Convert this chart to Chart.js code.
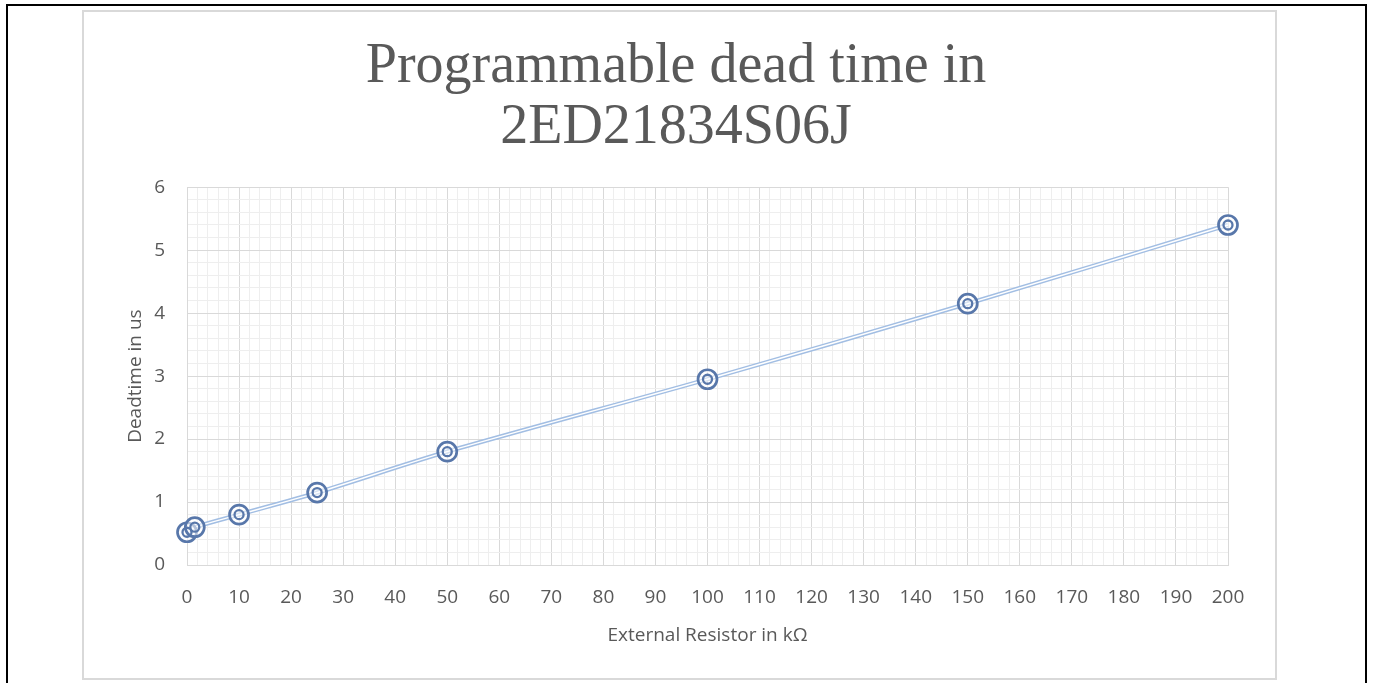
<!DOCTYPE html>
<html>
<head>
<meta charset="utf-8">
<script src="https://cdn.jsdelivr.net/npm/chart.js@4"></script>
<style>
  html, body { margin: 0; padding: 0; background: #fff; width: 1373px; height: 683px; overflow: hidden; }
  .outer { position: absolute; left: 6px; top: 4px; width: 1361px; height: 720px; box-sizing: border-box; border: 2px solid #000; }
  .frame { position: absolute; left: 82px; top: 10px; width: 1195px; height: 670px; box-sizing: border-box; border: 2px solid #d9d9d9; }
  .frame .box { position: absolute; left: 0; top: 0; width: 1191px; height: 666px; }
</style>
</head>
<body>
<div class="outer"></div>
<div class="frame"><div class="box"><canvas id="chart"></canvas></div></div>
<script>
// values
const resistorK = [0, 1.5, 10, 25, 50, 100, 150, 200];   // External Resistor in kΩ
const deadtimeUs = [0.52, 0.6, 0.8, 1.15, 1.8, 2.95, 4.15, 5.4];  // Deadtime in us
const titleLines = ['Programmable dead time in', '2ED21834S06J'];

const points = resistorK.map((x, i) => ({ x: x, y: deadtimeUs[i] }));

const textColor = '#595959';
const markerColor = '#5877aa';
const lineColor = '#a2bee3';
const axisFont = { family: '"Open Sans", sans-serif', size: 19 };
const isWhole = (v, step) => Math.abs(v / step - Math.round(v / step)) < 1e-6;

new Chart(document.getElementById('chart'), {
  type: 'scatter',
  data: {
    datasets: [
      // inner ring of the marker (drawn on top)
      { data: points, showLine: false, clip: false, pointRadius: 4.5, pointHoverRadius: 4.5, pointBorderWidth: 2.3,
        pointBorderColor: markerColor, pointBackgroundColor: 'rgba(255,255,255,0)' },
      // outer ring
      { data: points, showLine: false, clip: false, pointRadius: 9.5, pointHoverRadius: 9.5, pointBorderWidth: 2.7,
        pointBorderColor: markerColor, pointBackgroundColor: 'rgba(255,255,255,0.55)' },
      // double line: white core over a wider blue stroke
      { data: points, showLine: true, clip: false, pointRadius: 0, borderColor: '#ffffff', borderWidth: 1.4, tension: 0.3 },
      { data: points, showLine: true, clip: false, pointRadius: 0, borderColor: lineColor, borderWidth: 4.4, tension: 0.3 }
    ]
  },
  options: {
    responsive: true,
    maintainAspectRatio: false,
    animation: false,
    layout: { padding: { left: 40, right: 47, top: 0, bottom: 31 } },
    plugins: {
      legend: { display: false },
      tooltip: { enabled: false },
      title: {
        display: true,
        text: titleLines,
        color: textColor,
        font: { family: '"Liberation Serif", serif', size: 56, weight: 'normal', lineHeight: 1.1 },
        padding: { top: 24, bottom: 28 }
      }
    },
    scales: {
      x: {
        type: 'linear', min: 0, max: 200,
        afterFit: s => { s.height = 82; },
        ticks: {
          stepSize: 2, autoSkip: false, maxTicksLimit: 200, maxRotation: 0, padding: 21,
          color: textColor, font: axisFont,
          callback: v => isWhole(v, 10) ? Math.round(v) : ''
        },
        grid: { drawTicks: false, lineWidth: 1, color: c => isWhole(c.tick.value, 10) ? '#d9d9d9' : '#eeeeee' },
        border: { color: '#d9d9d9' },
        title: { display: true, text: 'External Resistor in kΩ', color: textColor, font: axisFont, padding: 0 }
      },
      y: {
        type: 'linear', min: 0, max: 6,
        afterFit: s => { s.width = 63; },
        ticks: {
          stepSize: 0.2, autoSkip: false, maxTicksLimit: 100, padding: 22,
          color: textColor, font: axisFont,
          callback: v => isWhole(v, 1) ? Math.round(v) : ''
        },
        grid: { drawTicks: false, lineWidth: 1, color: c => isWhole(c.tick.value, 1) ? '#d9d9d9' : '#eeeeee' },
        border: { color: '#d9d9d9' },
        title: { display: true, text: 'Deadtime in us', color: textColor, font: axisFont, padding: 0 }
      }
    }
  }
});
</script>
</body>
</html>
